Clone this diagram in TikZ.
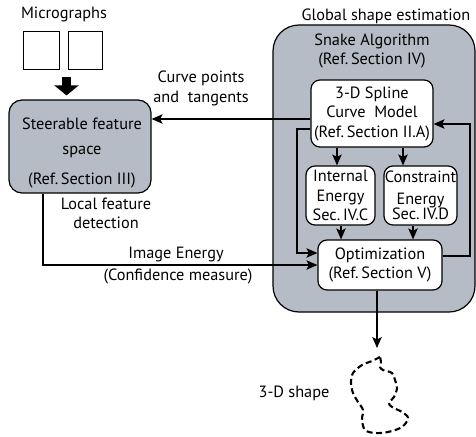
\documentclass[tikz,border=0pt]{standalone}
\usepackage{fontspec}
\setmainfont{PT Sans}
\usetikzlibrary{arrows.meta}
\definecolor{gbg}{RGB}{181,188,197}
\begin{document}
\begin{tikzpicture}[x=1pt,y=-1pt,
  font=\fontsize{16.3}{19.5}\selectfont,
  box/.style={draw, line width=1.2pt, rounded corners=9pt, fill=white, align=center, inner sep=0pt},
  arr/.style={line width=1.2pt, -{Stealth[length=11pt,width=9.5pt,inset=2.5pt]}},
  txt/.style={align=center, inner sep=0pt},
  sq/.style={draw, line width=0.9pt, inner sep=0pt}]
\useasboundingbox (0,0) rectangle (476,436);
% outer global box
\node[draw, line width=1.2pt, fill=gbg, rounded corners=26pt, minimum width=202pt, minimum height=287pt, inner sep=0pt] (global) at (374,168.5) {};
\node[txt] (globaltitle) at (386,16) {Global shape estimation};
\node[txt] (snake) at (372,51) {Snake Algorithm\\(Ref.\,Section IV)};
% micrographs
\node[txt] (micro) at (64,14) {Micrographs};
\node[sq, minimum width=36pt, minimum height=38pt] (m1) at (41,50) {};
\node[sq, minimum width=34pt, minimum height=38pt] (m2) at (85,50) {};
% steerable box
\node[draw, line width=1.2pt, fill=gbg, rounded corners=13pt, minimum width=142pt, minimum height=93pt, inner sep=0pt] (steer) at (80,146.5) {};
\node[txt] (steertxt) at (82,153) {Steerable feature\\[5pt]space\\[11pt](Ref.\,Section III)};
% inner boxes
\node[box, minimum width=122pt, minimum height=67pt] (spline) at (372,113.5) {3-D Spline\\Curve\ \ Model\\(Ref.\,Section II.A)};
\node[box, minimum width=69pt, minimum height=59pt] (internal) at (340.5,195.5) {Internal\\Energy\\Sec.\,IV.C};
\node[box, minimum width=73pt, minimum height=59pt] (constraint) at (420.5,195.5) {Constraint\\[2pt]Energy\\[-4pt]Sec.\,IV.D};
\node[box, minimum width=124pt, minimum height=50pt] (opt) at (380,265) {Optimization\\(Ref.\,Section V)};
% labels
\node[txt] (cpt) at (201,88.5) {Curve points\\and\ \ tangents};
\node[txt] (lfd) at (106,213.5) {Local feature\\detection};
\node[txt] (ie) at (176,255) {Image Energy};
\node[txt] (conf) at (178,276) {(Confidence measure)};
\node[txt] (shapetxt) at (294,393) {3-D shape};
% helper coordinates
\coordinate (cpy) at (0,119);
\coordinate (lfT) at (297,129);
\coordinate (lfB) at (297,253);
\coordinate (rfB) at (470,256);
\coordinate (rfT) at (470,124);
\coordinate (ieC) at (43,265);
\coordinate (xa) at (337,0);
\coordinate (xb) at (403,0);
\coordinate (xc) at (341,0);
\coordinate (xd) at (413,0);
\coordinate (xo) at (377,0);
\coordinate (shapetop) at (377,348);
\coordinate (ta) at (66.5,0);
% thick arrow
\draw[line width=9pt, -{Triangle[length=10pt,width=24pt]}, shorten <=8pt, shorten >=4pt] (m1.south -| ta) -- (steer.north -| ta);
% connectors
\draw[arr] (spline.west |- cpy) -- (steer.east |- cpy);
\draw[arr] (spline.west |- lfT) -- (lfT) -- (lfB) -- (opt.west |- lfB);
\draw[arr] (opt.east |- rfB) -- (rfB) -- (rfT) -- (spline.east |- rfT);
\draw[arr] (spline.south -| xa) -- (internal.north -| xa);
\draw[arr] (spline.south -| xb) -- (constraint.north -| xb);
\draw[arr] (internal.south -| xc) -- (opt.north -| xc);
\draw[arr] (constraint.south -| xd) -- (opt.north -| xd);
\draw[arr] (steer.south -| ieC) -- (ieC) -- (opt.west |- ieC);
\draw[arr] (opt.south -| xo) -- (shapetop);
% 3-D shape blob
\draw[line width=2.1pt, dash pattern=on 6pt off 3.5pt] plot[smooth, tension=0.55] coordinates {
(380,357) (372,361) (362,365) (353,373) (351,383) (353,393) (358,402) (363,410) (362,420) (365,430) (375,433) (388,432) (402,427) (408,418) (402,412) (392,407) (389,403) (394,397) (397,388) (395,380) (392,373) (383,370) (380,367) (381,362) (380,357)};
\end{tikzpicture}
\end{document}
